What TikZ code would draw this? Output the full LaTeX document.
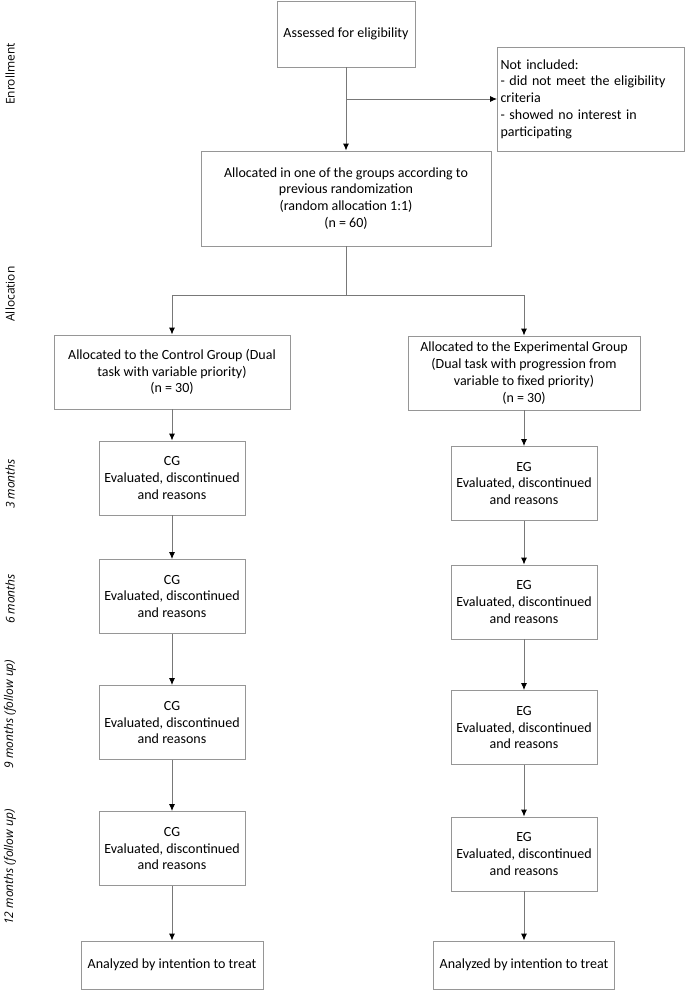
\documentclass[tikz,border=0pt]{standalone}
\usepackage{fontspec}
\setmainfont{Carlito}
\newfontfamily\sidefont{Open Sans}
\usetikzlibrary{arrows.meta}
\definecolor{linec}{RGB}{120,120,120}
\definecolor{boxc}{RGB}{150,150,150}
\begin{document}
\begin{tikzpicture}[x=1pt,y=-1pt,
  box/.style={draw=boxc, line width=0.9pt, align=center, inner sep=2pt,
    font=\fontsize{14}{16.8}\selectfont},
  arr/.style={draw=linec, line width=0.9pt, -{Latex[length=7pt,width=6pt,color=black]}},
  ln/.style={draw=linec, line width=0.9pt},
  side/.style={rotate=90, font=\sidefont\fontsize{12}{14}\selectfont}]
\useasboundingbox (0,0) rectangle (685,991);
\fill[white] (0,0) rectangle (685,991);

\node[box, minimum width=138pt, minimum height=66pt] (assess) at (346,34) {Assessed for eligibility};
\node[box, minimum width=187pt, minimum height=104pt, text width=181pt, align=left, inner sep=3pt] (notinc) at (591,99)
  {Not included:\\- did not meet the eligibility\\criteria\\- showed no interest in\\participating};
\node[box, minimum width=290pt, minimum height=95pt] (alloc) at (346,198.5)
  {Allocated in one of the groups according to\\previous randomization\\(random allocation 1:1)\\(n = 60)};

\node[box, minimum width=236pt, minimum height=74pt] (cga) at (172,372)
  {Allocated to the Control Group (Dual\\task with variable priority)\\(n = 30)};
\node[box, minimum width=232pt, minimum height=74pt] (ega) at (524,373)
  {Allocated to the Experimental Group\\(Dual task with progression from\\variable to fixed priority)\\(n = 30)};

\node[box, minimum width=146pt, minimum height=74pt] (cg3) at (172,478) {CG\\Evaluated, discontinued\\and reasons};
\node[box, minimum width=146pt, minimum height=74pt] (eg3) at (524,483.5) {EG\\Evaluated, discontinued\\and reasons};
\node[box, minimum width=146pt, minimum height=74pt] (cg6) at (172,596.5) {CG\\Evaluated, discontinued\\and reasons};
\node[box, minimum width=146pt, minimum height=74pt] (eg6) at (524,602) {EG\\Evaluated, discontinued\\and reasons};
\node[box, minimum width=146pt, minimum height=74pt] (cg9) at (172,722.5) {CG\\Evaluated, discontinued\\and reasons};
\node[box, minimum width=146pt, minimum height=74pt] (eg9) at (524,727.5) {EG\\Evaluated, discontinued\\and reasons};
\node[box, minimum width=146pt, minimum height=74pt] (cg12) at (172,848.5) {CG\\Evaluated, discontinued\\and reasons};
\node[box, minimum width=146pt, minimum height=74pt] (eg12) at (524,854) {EG\\Evaluated, discontinued\\and reasons};
\node[box, minimum width=182pt, minimum height=48pt] (cgan) at (172,965) {Analyzed by intention to treat};
\node[box, minimum width=181pt, minimum height=48pt] (egan) at (524,965) {Analyzed by intention to treat};

\coordinate (br) at (346,99);
\coordinate (sp) at (346,295);
\draw[arr] (assess.south) -- (alloc.north);
\draw[arr] (br) -- (notinc.west |- br);
\draw[ln] (alloc.south) -- (sp);
\draw[arr] (sp) -| (cga.north);
\draw[arr] (sp) -| (ega.north);
\draw[arr] (cga.south) -- (cg3.north);
\draw[arr] (ega.south) -- (eg3.north);
\draw[arr] (cg3.south) -- (cg6.north);
\draw[arr] (eg3.south) -- (eg6.north);
\draw[arr] (cg6.south) -- (cg9.north);
\draw[arr] (eg6.south) -- (eg9.north);
\draw[arr] (cg9.south) -- (cg12.north);
\draw[arr] (eg9.south) -- (eg12.north);
\draw[arr] (cg12.south) -- (cgan.north);
\draw[arr] (eg12.south) -- (egan.north);

\node[side] (lenr) at (10,74) {Enrollment};
\node[side] (lall) at (10,294) {Allocation};
\node[side] (l3) at (10,484) {\itshape 3 months};
\node[side] (l6) at (10,599) {\itshape 6 months};
\node[side] (l9) at (10,714) {\itshape 9 months (follow up)};
\node[side] (l12) at (10,867) {\itshape 12 months (follow up)};
\end{tikzpicture}
\end{document}
